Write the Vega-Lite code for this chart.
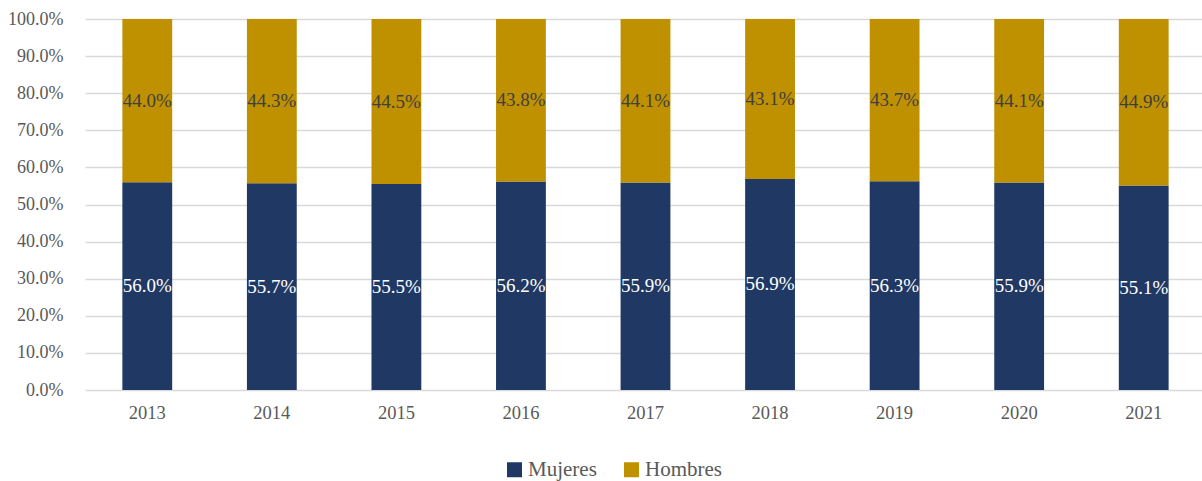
{
  "$schema": "https://vega.github.io/schema/vega-lite/v6.json",
  "width": 1121,
  "height": 371,
  "autosize": {"type": "none"},
  "padding": {"left": 85, "top": 19, "right": 0, "bottom": 91},
  "background": "white",
  "config": {
    "view": {"stroke": null},
    "font": "Liberation Serif",
    "axis": {"labelFont": "Liberation Serif", "labelFontSize": 18, "labelColor": "#595959", "ticks": false, "domain": false, "title": null},
    "legend": {"labelFont": "Liberation Serif", "labelFontSize": 21, "labelColor": "#595959"}
  },
  "data": {
    "values": [
      {"anio": "2013", "sexo": "Mujeres", "v": 0.560},
      {"anio": "2013", "sexo": "Hombres", "v": 0.440},
      {"anio": "2014", "sexo": "Mujeres", "v": 0.557},
      {"anio": "2014", "sexo": "Hombres", "v": 0.443},
      {"anio": "2015", "sexo": "Mujeres", "v": 0.555},
      {"anio": "2015", "sexo": "Hombres", "v": 0.445},
      {"anio": "2016", "sexo": "Mujeres", "v": 0.562},
      {"anio": "2016", "sexo": "Hombres", "v": 0.438},
      {"anio": "2017", "sexo": "Mujeres", "v": 0.559},
      {"anio": "2017", "sexo": "Hombres", "v": 0.441},
      {"anio": "2018", "sexo": "Mujeres", "v": 0.569},
      {"anio": "2018", "sexo": "Hombres", "v": 0.431},
      {"anio": "2019", "sexo": "Mujeres", "v": 0.563},
      {"anio": "2019", "sexo": "Hombres", "v": 0.437},
      {"anio": "2020", "sexo": "Mujeres", "v": 0.559},
      {"anio": "2020", "sexo": "Hombres", "v": 0.441},
      {"anio": "2021", "sexo": "Mujeres", "v": 0.551},
      {"anio": "2021", "sexo": "Hombres", "v": 0.449}
    ]
  },
  "encoding": {
    "x": {"field": "anio", "type": "nominal", "scale": {"paddingInner": 0.6, "paddingOuter": 0.3},
          "axis": {"labelAngle": 0, "labelPadding": 13, "labelFontSize": 18.5, "grid": false}},
    "y": {"field": "v", "type": "quantitative", "stack": "zero",
          "scale": {"domain": [0, 1]},
          "axis": {"format": ".1%", "tickCount": 10, "labelOverlap": false, "labelPadding": 22, "gridColor": "#D9D9D9", "gridWidth": 1.5}},
    "order": {"field": "sexo", "sort": "descending"}
  },
  "layer": [
    {
      "mark": {"type": "bar"},
      "encoding": {
        "color": {"field": "sexo", "type": "nominal",
                  "scale": {"domain": ["Mujeres", "Hombres"], "range": ["#203864", "#BF9000"]},
                  "legend": {"title": null, "orient": "none", "legendX": 419, "legendY": 440, "direction": "horizontal", "symbolType": "square", "symbolSize": 225, "symbolStrokeWidth": 0, "columnPadding": 24, "labelOffset": 3}}
      }
    },
    {
      "mark": {"type": "text", "fontSize": 19, "font": "Liberation Serif", "baseline": "middle"},
      "encoding": {
        "y": {"field": "v", "type": "quantitative", "stack": "zero", "bandPosition": 0.5},
        "text": {"field": "v", "type": "quantitative", "format": ".1%"},
        "color": {"condition": {"test": "datum.sexo === 'Mujeres'", "value": "white"}, "value": "#404040"}
      }
    }
  ]
}
